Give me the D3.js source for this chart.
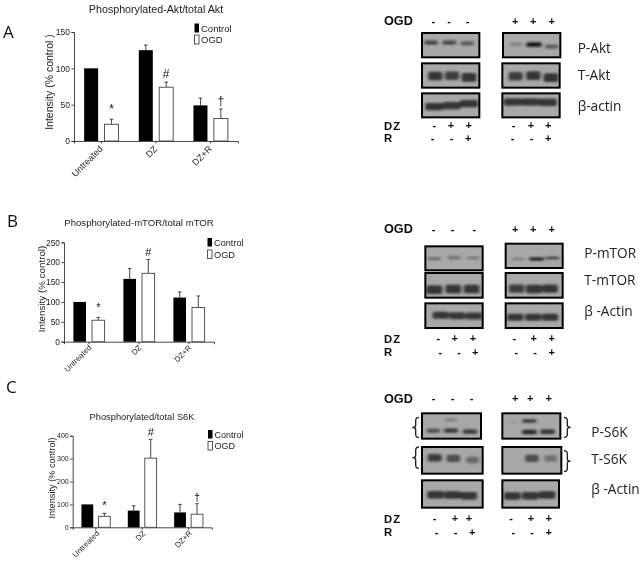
<!DOCTYPE html>
<html><head><meta charset="utf-8">
<script src="https://cdnjs.cloudflare.com/ajax/libs/d3/7.8.5/d3.min.js"></script>
<style>html,body{margin:0;padding:0;background:#fff}svg{display:block}</style>
</head><body><svg id="c" width="643" height="561"></svg>
<script>
// ---------- bar chart data ----------
const categories = ["Untreated", "DZ", "DZ+R"];
const legendLabels = ["Control", "OGD"];
const aktControl = [100, 125, 49];
const aktControlTop = [100, 132, 59];
const aktOgd = [23, 74, 31];
const aktOgdTop = [30, 81, 44];
const aktMarks = ["*", "#", "†"];
const aktTicks = [0, 50, 100, 150];
const mtorControl = [100, 158, 111];
const mtorControlTop = [100, 184, 125];
const mtorOgd = [54, 172, 86];
const mtorOgdTop = [61, 207, 115];
const mtorMarks = ["*", "#", ""];
const mtorTicks = [0, 50, 100, 150, 200, 250];
const s6kControl = [100, 73, 65];
const s6kControlTop = [100, 94, 100];
const s6kOgd = [48, 302, 57];
const s6kOgdTop = [61, 384, 103];
const s6kMarks = ["*", "#", "†"];
const s6kTicks = [0, 100, 200, 300, 400];
// ---------- blot band intensities (0-1), per lane ----------
const pAkt = [[.7,.7,.6],[.3,1,.6]];
const tAkt = [[.8,.75,.85],[.75,.8,.85]];
const actinAkt = [[.85,.85,.85],[.85,.85,.85]];
const pMtor = [[.55,.55,.45],[.4,1,.75]];
const tMtor = [[.85,.8,.8],[.75,.85,.8]];
const actinMtor = [[.8,.8,.8],[.8,.8,.8]];
const pS6kLow = [[.65,.8,.8],[0,.9,.85]];
const pS6kHigh = [[0,.3,0],[.08,.8,0]];
const tS6k = [[.75,.65,.45],[0,.65,.4]];
const actinS6k = [[.85,.85,.85],[.85,.85,.85]];
const ogdSigns = [["-","-","-"],["+","+","+"]];
const dzSigns = [["-","+","+"],["-","+","+"]];
const rSigns = [["-","-","+"],["-","-","+"]];

const svg = d3.select("#c");
const defs = svg.append("defs");
defs.append("filter").attr("id","bl").attr("filterUnits","userSpaceOnUse").attr("x",0).attr("y",0).attr("width",800).attr("height",600)
  .append("feGaussianBlur").attr("stdDeviation","4 3");
const soft = defs.append("filter").attr("id","soft");
soft.append("feGaussianBlur").attr("stdDeviation","0.3");

const root = svg.append("g").attr("filter","url(#soft)");
const AR = "Liberation Sans, Arial, sans-serif", OS = "'Open Sans', sans-serif";

function barChart(c){
  const g = root.append("g");
  const y = d3.scaleLinear().domain(c.domain).range(c.yr);
  const x = d3.scaleBand().domain(categories).range(c.xr);
  const yAxis = d3.axisLeft(y).tickValues(c.ticks).tickSize(2.5).tickPadding(1.5).tickFormat(d3.format("d"));
  const xAxis = d3.axisBottom(x).tickSize(2.5).tickFormat("");
  const ga = g.append("g").attr("transform",`translate(${c.xr[0]},0)`).call(yAxis);
  const gb = g.append("g").attr("transform",`translate(0,${c.yr[0]})`).call(xAxis);
  [ga,gb].forEach(a=>{a.selectAll("path,line").attr("stroke","#333").attr("stroke-width",.9);
    a.selectAll("text").attr("font-family",AR).attr("font-size",c.tick).attr("fill","#222");});
  const series = [
    {v:c.ctl,t:c.ctlTop,fill:"#000",off:c.off0},
    {v:c.ogd,t:c.ogdTop,fill:"#fff",off:c.off1}];
  series.forEach(s=>{
    const sel = g.append("g").selectAll("g").data(categories).join("g");
    sel.append("line")
      .attr("x1",(d)=>x(d)+x.bandwidth()/2+s.off).attr("x2",(d)=>x(d)+x.bandwidth()/2+s.off)
      .attr("y1",(d,i)=>y(s.v[i])).attr("y2",(d,i)=>y(s.t[i])).attr("stroke","#333").attr("stroke-width",.9);
    sel.append("line")
      .attr("x1",(d)=>x(d)+x.bandwidth()/2+s.off-1.8).attr("x2",(d)=>x(d)+x.bandwidth()/2+s.off+1.8)
      .attr("y1",(d,i)=>y(s.t[i])).attr("y2",(d,i)=>y(s.t[i])).attr("stroke","#333").attr("stroke-width",.9)
      .attr("opacity",(d,i)=>s.t[i]>s.v[i]?1:0);
    sel.append("rect")
      .attr("x",(d)=>x(d)+x.bandwidth()/2+s.off-c.bw/2).attr("width",c.bw)
      .attr("y",(d,i)=>y(s.v[i])).attr("height",(d,i)=>y(0)-y(s.v[i]))
      .attr("fill",s.fill).attr("stroke",s.fill==="#000"?"#000":"#444").attr("stroke-width",s.fill==="#000"?0:.9);
  });
  g.append("g").selectAll("text").data(categories).join("text")
    .attr("transform",(d)=>`translate(${x(d)+x.bandwidth()/2+c.catDx},${c.yr[0]+c.catDy}) rotate(-45)`)
    .attr("text-anchor","end").attr("font-family",AR).attr("font-size",c.cat).attr("fill","#222").text(d=>d);
  g.append("g").selectAll("text").data(c.marks).join("text")
    .attr("x",(d,i)=>x(categories[i])+x.bandwidth()/2+c.off1)
    .attr("y",(d,i)=>y(c.ogdTop[i])-(d==="*"?c.starUp:c.hashUp))
    .attr("text-anchor","middle").attr("font-family",AR).attr("font-size",c.markSize).attr("fill","#111").text(d=>d);
  g.append("text").attr("x",c.titleX).attr("y",c.titleY).attr("text-anchor","middle")
    .attr("font-family",AR).attr("font-size",c.titleSize).attr("fill","#222").text(c.title);
  g.append("text").attr("transform",`translate(${c.ylX},${c.ylY}) rotate(-90)`).attr("text-anchor","middle")
    .attr("font-family",AR).attr("font-size",c.ylSize).attr("fill","#222").text(c.yl);
  legendLabels.forEach((l,i)=>{
    g.append("rect").attr("x",c.lgX).attr("y",c.lgY[i]).attr("width",c.lgW).attr("height",c.lgH)
      .attr("fill",i?"#fff":"#000").attr("stroke",i?"#444":"#000").attr("stroke-width",i?.9:0);
    g.append("text").attr("x",c.lgX+c.lgW+2).attr("y",c.lgY[i]+c.lgH-1).attr("font-family",AR)
      .attr("font-size",c.lgSize).attr("fill","#222").text(l);
  });
  g.append("text").attr("x",c.letter[0]).attr("y",c.letter[1]).attr("font-family",OS).attr("font-size",17).attr("fill","#111").text(c.letter[2]);
}

barChart({domain:[0,150],yr:[141,32],xr:[74,238],ctl:aktControl,ctlTop:aktControlTop,ogd:aktOgd,ogdTop:aktOgdTop,
  ticks:aktTicks,marks:aktMarks,bw:14,off0:-10.2,off1:10.2,tick:8.5,cat:9,catDx:2,catDy:8.5,starUp:6,hashUp:4,markSize:12,
  title:"Phosphorylated-Akt/total Akt",titleX:156,titleY:12.5,titleSize:10.7,yl:"Intensity (% control )",ylX:52.5,ylY:82,ylSize:10.5,
  lgX:194.5,lgY:[23.5,35],lgW:4.5,lgH:9,lgSize:9.5,letter:[3,38,"A"]});
barChart({domain:[0,250],yr:[341.7,242.3],xr:[64,214],ctl:mtorControl,ctlTop:mtorControlTop,ogd:mtorOgd,ogdTop:mtorOgdTop,
  ticks:mtorTicks,marks:mtorMarks,bw:12.6,off0:-9.3,off1:9.3,tick:8.4,cat:7.8,catDx:3,catDy:6.5,starUp:6,hashUp:3.5,markSize:11,
  title:"Phosphorylated-mTOR/total mTOR",titleX:139,titleY:225.5,titleSize:9.6,yl:"Intensity (% control)",ylX:44.5,ylY:289,ylSize:9.8,
  lgX:207.5,lgY:[238,250],lgW:4.5,lgH:8.5,lgSize:9.2,letter:[7,227,"B"]});
barChart({domain:[0,400],yr:[527.3,435.7],xr:[72.7,211.7],ctl:s6kControl,ctlTop:s6kControlTop,ogd:s6kOgd,ogdTop:s6kOgdTop,
  ticks:s6kTicks,marks:s6kMarks,bw:11.8,off0:-8.5,off1:8.5,tick:7,cat:7.8,catDx:4,catDy:6.5,starUp:4.5,hashUp:3,markSize:11,
  title:"Phosphorylated/total S6K",titleX:142,titleY:420,titleSize:9.3,yl:"Intensity (% control)",ylX:54.5,ylY:478,ylSize:9.2,
  lgX:208,lgY:[430,441.5],lgW:4.5,lgH:8.5,lgSize:9,letter:[6,393,"C"]});

// ---------- western blots (layout measured in 1/3 px from each panel origin) ----------
function blotPanel(p){
  const g = root.append("g").attr("transform",`translate(370,${p.oy}) scale(${1/3})`);
  p.rows.forEach((r,ri)=>{
    [0,1].forEach(side=>{
      const b = r.box[side], id=`clip${p.oy}${ri}${side}`;
      defs.append("clipPath").attr("id",id).append("rect").attr("x",b[0]).attr("y",b[1]).attr("width",b[2]-b[0]).attr("height",b[3]-b[1]);
      g.append("rect").attr("x",b[0]).attr("y",b[1]).attr("width",b[2]-b[0]).attr("height",b[3]-b[1]).attr("fill","#a8a8a8");
      const inner = g.append("g").attr("clip-path",`url(#${id})`);
      r.layers.forEach(l=>{
        inner.append("g").attr("filter","url(#bl)").selectAll("rect").data(l.vals[side].map((v,i)=>({v,i})).filter(d=>d.v>0)).join("rect")
          .attr("x",d=>l.xs[side][d.i]-l.w/2*(0.75+d.v*.35)).attr("width",d=>l.w*(0.75+d.v*.35))
          .attr("y",d=>l.ys[side][d.i]-l.h/2*(0.6+d.v*.5)).attr("height",d=>l.h*(0.6+d.v*.5))
          .attr("rx",6).attr("fill","#1c1c1c").attr("opacity",d=>d.v);
      });
      g.append("rect").attr("x",b[0]).attr("y",b[1]).attr("width",b[2]-b[0]).attr("height",b[3]-b[1])
        .attr("fill","none").attr("stroke","#000").attr("stroke-width",6);
    });
    g.append("text").attr("x",p.labelX).attr("y",r.labelY+15).attr("font-family",OS).attr("font-size",41).attr("fill","#222").text(r.label);
  });
  p.signs.forEach(s=>{
    g.append("text").attr("x",42).attr("y",s.y+13).attr("font-family",AR).attr("font-weight",700)
      .attr("font-size",s.name==="OGD"?38:34).attr("letter-spacing",s.name==="OGD"?0:3).attr("fill","#111").text(s.name);
    [0,1].forEach(side=>{
      g.append("g").selectAll("text").data(s.vals[side]).join("text")
        .attr("x",(d,i)=>s.xs[side][i]).attr("y",s.y+12).attr("text-anchor","middle")
        .attr("font-family",AR).attr("font-weight",700).attr("font-size",33).attr("fill","#111").text(d=>d);
    });
  });
  (p.braces||[]).forEach(br=>{
    const [x,y0,y1,dir]=br, m=(y0+y1)/2, d=10*dir;
    const q=d3.path();
    q.moveTo(x+d,y0);q.quadraticCurveTo(x,y0,x,y0+10);q.lineTo(x,m-6);q.quadraticCurveTo(x,m,x-d,m);
    q.quadraticCurveTo(x,m,x,m+6);q.lineTo(x,y1-10);q.quadraticCurveTo(x,y1,x+d,y1);
    g.append("path").attr("d",q.toString()).attr("fill","none").attr("stroke","#222").attr("stroke-width",4);
  });
}
blotPanel({oy:0,labelX:623,rows:[
  {label:"P-Akt",labelY:143,box:[[156,99,328,172],[399,99,571,172]],layers:[{vals:pAkt,w:42,h:13,xs:[[183,238,292],[438,492,545]],ys:[[128,128,130],[133,134,140]]}]},
  {label:"T-Akt",labelY:226,box:[[156,190,328,263],[397,190,569,263]],layers:[{vals:tAkt,w:42,h:26,xs:[[196,246,297],[437,490,543]],ys:[[228,227,232],[229,227,233]]}]},
  {label:"β-actin",labelY:318,box:[[156,280,328,352],[397,280,569,352]],layers:[{vals:actinAkt,w:52,h:21,xs:[[193,245,297],[428,480,533]],ys:[[320,317,311],[306,306,307]]}]}
 ],signs:[
  {name:"OGD",y:62,vals:ogdSigns,xs:[[190,237,293],[436,490,545]]},
  {name:"DZ",y:376,vals:dzSigns,xs:[[193,243,296],[431,483,535]]},
  {name:"R",y:414,vals:rSigns,xs:[[188,245,295],[428,485,535]]}]});
blotPanel({oy:195,labelX:643,rows:[
  {label:"P-mTOR",labelY:175,box:[[166,154,338,226],[407,146,578,219]],layers:[{vals:pMtor,w:42,h:8,xs:[[193,253,310],[445,500,547]],ys:[[191,188,189],[192,192,189]]}]},
  {label:"T-mTOR",labelY:256,box:[[166,234,338,308],[407,234,578,308]],layers:[{vals:tMtor,w:46,h:25,xs:[[193,250,305],[440,492,540]],ys:[[284,282,282],[281,282,281]]}]},
  {label:"β -Actin",labelY:349,box:[[166,325,338,399],[407,325,578,399]],layers:[{vals:actinMtor,w:48,h:21,xs:[[212,262,312],[436,490,540]],ys:[[361,362,363],[367,367,367]]}]}
 ],signs:[
  {name:"OGD",y:102,vals:ogdSigns,xs:[[191,248,313],[436,490,545]]},
  {name:"DZ",y:430,vals:dzSigns,xs:[[205,254,309],[433,491,545]]},
  {name:"R",y:470,vals:rSigns,xs:[[211,267,316],[439,495,545]]}]});
blotPanel({oy:375,labelX:664,rows:[
  {label:"P-S6K",labelY:170,box:[[156,115,333,191],[397,115,571,191]],layers:[
    {vals:pS6kLow,w:42,h:13,xs:[[190,243,300],[432,478,533]],ys:[[167,167,170],[170,171,170]]},
    {vals:pS6kHigh,w:42,h:11,xs:[[190,243,300],[432,478,533]],ys:[[135,135,135],[143,138,138]]}]},
  {label:"T-S6K",labelY:251,box:[[156,216,338,296],[397,216,574,296]],layers:[{vals:tS6k,w:42,h:23,xs:[[194,250,308],[430,486,542]],ys:[[248,250,255],[250,250,250]]}]},
  {label:"β -Actin",labelY:343,box:[[156,316,338,398],[397,316,567,398]],layers:[{vals:actinS6k,w:48,h:22,xs:[[197,248,296],[427,481,531]],ys:[[359,360,362],[363,362,360]]}]}
 ],signs:[
  {name:"OGD",y:70,vals:ogdSigns,xs:[[191,248,305],[436,481,536]]},
  {name:"DZ",y:430,vals:dzSigns,xs:[[194,255,297],[423,483,536]]},
  {name:"R",y:470,vals:rSigns,xs:[[200,257,307],[430,486,536]]}],
  braces:[[137,127,188,1],[137,216,280,1],[592,127,187,-1],[592,227,290,-1]]});
</script></body></html>
